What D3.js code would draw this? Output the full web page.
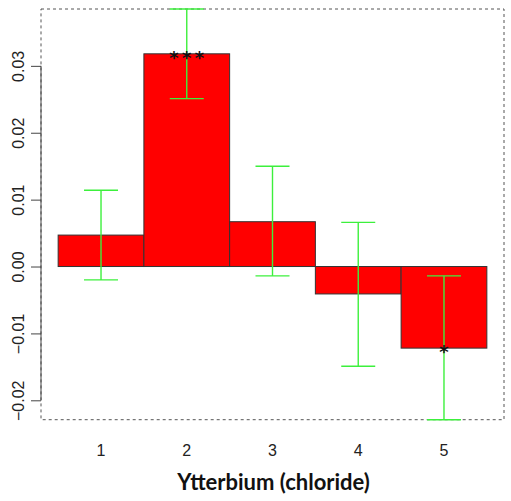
<!DOCTYPE html>
<html>
<head>
<meta charset="utf-8">
<script src="https://cdn.jsdelivr.net/npm/d3@7"></script>
<style>
  html, body { margin: 0; padding: 0; background: #fff; }
  svg { display: block; }
</style>
</head>
<body>
<svg id="chart" width="511" height="501"></svg>
<script>
// Group labels, effect estimates and their interval bounds
const groups = ["1", "2", "3", "4", "5"];
const effects = [0.0047, 0.0318, 0.0067, -0.0041, -0.0122];
const upperBounds = [0.0114, 0.0385, 0.0150, 0.0066, -0.0014];
const lowerBounds = [-0.0020, 0.0251, -0.0014, -0.0149, -0.0229];
const significance = ["", "***", "", "", "*"];
const yTicks = [-0.02, -0.01, 0.00, 0.01, 0.02, 0.03];
const xTitle = "Ytterbium (chloride)";

const svg = d3.select("#chart");
const plot = { left: 41, right: 504, top: 9, bottom: 419.7 };

// Bars sit on unit-wide slots 0..5, padded like a base-R barplot
const x = d3.scaleLinear().domain([-0.2, 5.2]).range([plot.left, plot.right]);
const y = d3.scaleLinear()
  .domain([d3.min(lowerBounds), d3.max(upperBounds)])
  .range([plot.bottom, plot.top]);

// Dashed frame around the plotting region
svg.append("rect")
  .attr("x", plot.left).attr("y", plot.top)
  .attr("width", plot.right - plot.left).attr("height", plot.bottom - plot.top)
  .attr("fill", "none").attr("stroke", "#555").attr("stroke-width", 1)
  .attr("stroke-dasharray", "3,3");

// Bars
const data = groups.map((g, i) => ({
  g, i, v: effects[i], hi: upperBounds[i], lo: lowerBounds[i], sig: significance[i]
}));

svg.append("g").selectAll("rect").data(data).join("rect")
  .attr("x", d => x(d.i))
  .attr("width", d => x(d.i + 1) - x(d.i))
  .attr("y", d => y(Math.max(0, d.v)))
  .attr("height", d => Math.abs(y(d.v) - y(0)))
  .attr("fill", "#ff0000")
  .attr("stroke", "#333").attr("stroke-width", 1);

// Error bars with caps
const capHalf = 17;
const eb = svg.append("g").attr("stroke", "#3cf03c").attr("stroke-width", 1.4).attr("fill", "none");
data.forEach(d => {
  const cx = x(d.i + 0.5);
  eb.append("line").attr("x1", cx).attr("x2", cx).attr("y1", y(d.hi)).attr("y2", y(d.lo));
  eb.append("line").attr("x1", cx - capHalf).attr("x2", cx + capHalf).attr("y1", y(d.hi)).attr("y2", y(d.hi));
  eb.append("line").attr("x1", cx - capHalf).attr("x2", cx + capHalf).attr("y1", y(d.lo)).attr("y2", y(d.lo));
});

// Significance stars centred on each bar end
const starGap = 12.7;
const starSize = 18;
data.forEach(d => {
  const n = d.sig.length;
  for (let k = 0; k < n; k++) {
    svg.append("text")
      .attr("x", x(d.i + 0.5) + (k - (n - 1) / 2) * starGap)
      .attr("y", y(d.v) + starSize * 0.56)
      .attr("text-anchor", "middle")
      .attr("font-family", "DejaVu Sans, sans-serif")
      .attr("font-weight", "bold")
      .attr("font-size", starSize)
      .attr("fill", "#111")
      .text(d.sig[k]);
  }
});

// Left axis with rotated labels
const yAxis = svg.append("g").attr("transform", `translate(${plot.left},0)`)
  .call(d3.axisLeft(y).tickValues(yTicks).tickSize(10).tickSizeOuter(0)
    .tickFormat(d => d3.format(".2f")(d).replace("-", "\u2212")));
yAxis.select(".domain").attr("stroke", "#444").attr("d", `M0,${y(0.03)}V${y(-0.02)}`);
yAxis.selectAll(".tick line").attr("stroke", "#444");
yAxis.selectAll(".tick text")
  .attr("font-family", "Liberation Sans, Arial, sans-serif")
  .attr("font-size", 16)
  .attr("fill", "#222")
  .attr("text-anchor", "middle")
  .attr("dy", null)
  .attr("x", null)
  .attr("transform", "translate(-23,0) rotate(-90)")
  .attr("dominant-baseline", "central");

// Bottom group labels (no axis line)
svg.append("g").selectAll("text").data(data).join("text")
  .attr("x", d => x(d.i + 0.5))
  .attr("y", 456)
  .attr("text-anchor", "middle")
  .attr("font-family", "Liberation Sans, Arial, sans-serif")
  .attr("font-size", 16)
  .attr("fill", "#222")
  .text(d => d.g);

// Axis title
svg.append("text")
  .attr("x", (plot.left + plot.right) / 2 + 1)
  .attr("y", 490)
  .attr("text-anchor", "middle")
  .attr("font-family", "Lato, sans-serif")
  .attr("font-weight", "bold")
  .attr("font-size", 22)
  .attr("fill", "#111")
  .text(xTitle);
</script>
</body>
</html>
